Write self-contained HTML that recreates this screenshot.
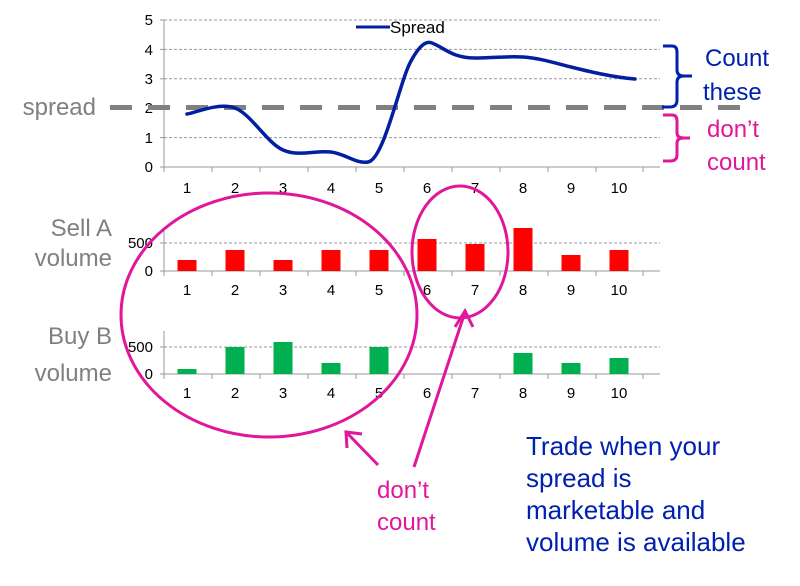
<!DOCTYPE html>
<html><head><meta charset="utf-8"><style>
html,body{margin:0;padding:0;background:#fff;}
svg{display:block;font-family:"Liberation Sans",sans-serif;}
</style></head><body>
<svg width="800" height="586" viewBox="0 0 800 586" xmlns="http://www.w3.org/2000/svg">
<g stroke="#999" stroke-width="1" stroke-dasharray="3,2">
<line x1="164" y1="20" x2="660" y2="20"/>
<line x1="164" y1="49.4" x2="660" y2="49.4"/>
<line x1="164" y1="78.8" x2="660" y2="78.8"/>
<line x1="164" y1="137.6" x2="660" y2="137.6"/>
</g>
<g stroke="#999" stroke-width="1">
<line x1="164" y1="20" x2="164" y2="172"/>
<line x1="160" y1="167" x2="660" y2="167"/>
<line x1="160" y1="20" x2="164" y2="20"/><line x1="160" y1="49.4" x2="164" y2="49.4"/><line x1="160" y1="78.8" x2="164" y2="78.8"/><line x1="160" y1="108.2" x2="164" y2="108.2"/><line x1="160" y1="137.6" x2="164" y2="137.6"/>
<line x1="212" y1="167" x2="212" y2="172"/><line x1="260" y1="167" x2="260" y2="172"/><line x1="308" y1="167" x2="308" y2="172"/><line x1="356" y1="167" x2="356" y2="172"/><line x1="404" y1="167" x2="404" y2="172"/><line x1="452" y1="167" x2="452" y2="172"/><line x1="500" y1="167" x2="500" y2="172"/><line x1="548" y1="167" x2="548" y2="172"/><line x1="596" y1="167" x2="596" y2="172"/><line x1="643" y1="167" x2="643" y2="172"/>
</g>
<g font-size="15" fill="#000" text-anchor="end">
<text x="153" y="25">5</text><text x="153" y="55">4</text><text x="153" y="84">3</text><text x="153" y="113">2</text><text x="153" y="143">1</text><text x="153" y="172">0</text>
</g>
<g font-size="15" fill="#000" text-anchor="middle">
<text x="187" y="193">1</text><text x="235" y="193">2</text><text x="283" y="193">3</text><text x="331" y="193">4</text><text x="379" y="193">5</text><text x="427" y="193">6</text><text x="475" y="193">7</text><text x="523" y="193">8</text><text x="571" y="193">9</text><text x="619" y="193">10</text>
</g>
<line x1="110" y1="107.5" x2="752" y2="107.5" stroke="#808080" stroke-width="5" stroke-dasharray="22,16"/>
<line x1="356" y1="27" x2="390" y2="27" stroke="#0020a0" stroke-width="3"/>
<text x="390" y="33" font-size="17" fill="#000">Spread</text>
<path d="M187,114 C195,113 219,102 235,108 C251,114 267,143 283,150 C299,157 316,150 331,152 C346,154 356,164 368,162 C384,160 400,80 411,61 C418,48 425,40 432,43 C445,48 452,58 475,58 C491,58 507,56 523,57 C539,58 555,63 571,67 C587,71 611,77 635,79" fill="none" stroke="#0020a0" stroke-width="3.5" stroke-linecap="round"/>
<path d="M663,46 L672,46 Q677,46 677,52 L677,70 Q677,76 684,76 L692,76 M684,76 Q677,76 677,82 L677,100 Q677,107 670,107 L662,107" fill="none" stroke="#0020b0" stroke-width="3"/>
<path d="M663,115 L672,115 Q677,115 677,121 L677,133 Q677,138 684,138 L690,138 M684,138 Q677,138 677,143 L677,155 Q677,161 670,161 L663,161" fill="none" stroke="#e0179a" stroke-width="3"/>
<g font-size="24" fill="#0020b0"><text x="705" y="66">Count</text><text x="703" y="100">these</text></g>
<g font-size="24" fill="#e0179a"><text x="707" y="137">don’t</text><text x="707" y="170">count</text></g>
<text x="96" y="115" font-size="24" fill="#808080" text-anchor="end">spread</text>

<line x1="164" y1="243" x2="660" y2="243" stroke="#999" stroke-dasharray="3,2"/>
<g stroke="#999"><line x1="164" y1="230" x2="164" y2="276"/><line x1="160" y1="271" x2="660" y2="271"/><line x1="160" y1="243" x2="164" y2="243"/>
<line x1="212" y1="271" x2="212" y2="276"/><line x1="260" y1="271" x2="260" y2="276"/><line x1="308" y1="271" x2="308" y2="276"/><line x1="356" y1="271" x2="356" y2="276"/><line x1="404" y1="271" x2="404" y2="276"/><line x1="452" y1="271" x2="452" y2="276"/><line x1="500" y1="271" x2="500" y2="276"/><line x1="548" y1="271" x2="548" y2="276"/><line x1="596" y1="271" x2="596" y2="276"/><line x1="643" y1="271" x2="643" y2="276"/></g>
<g fill="#ff0000">
<rect x="177.5" y="260" width="19" height="11"/><rect x="225.5" y="250" width="19" height="21"/><rect x="273.5" y="260" width="19" height="11"/><rect x="321.5" y="250" width="19" height="21"/><rect x="369.5" y="250" width="19" height="21"/><rect x="417.5" y="239" width="19" height="32"/><rect x="465.5" y="244" width="19" height="27"/><rect x="513.5" y="228" width="19" height="43"/><rect x="561.5" y="255" width="19" height="16"/><rect x="609.5" y="250" width="19" height="21"/>
</g>
<g font-size="15" fill="#000" text-anchor="end"><text x="153" y="248">500</text><text x="153" y="276">0</text></g>
<g font-size="15" fill="#000" text-anchor="middle">
<text x="187" y="295">1</text><text x="235" y="295">2</text><text x="283" y="295">3</text><text x="331" y="295">4</text><text x="379" y="295">5</text><text x="427" y="295">6</text><text x="475" y="295">7</text><text x="523" y="295">8</text><text x="571" y="295">9</text><text x="619" y="295">10</text>
</g>
<g font-size="24" fill="#808080" text-anchor="end"><text x="112" y="236">Sell A</text><text x="112" y="266">volume</text></g>

<line x1="164" y1="347" x2="660" y2="347" stroke="#999" stroke-dasharray="3,2"/>
<g stroke="#999"><line x1="164" y1="331" x2="164" y2="379"/><line x1="160" y1="374" x2="660" y2="374"/><line x1="160" y1="347" x2="164" y2="347"/>
<line x1="212" y1="374" x2="212" y2="379"/><line x1="260" y1="374" x2="260" y2="379"/><line x1="308" y1="374" x2="308" y2="379"/><line x1="356" y1="374" x2="356" y2="379"/><line x1="404" y1="374" x2="404" y2="379"/><line x1="452" y1="374" x2="452" y2="379"/><line x1="500" y1="374" x2="500" y2="379"/><line x1="548" y1="374" x2="548" y2="379"/><line x1="596" y1="374" x2="596" y2="379"/><line x1="643" y1="374" x2="643" y2="379"/></g>
<g fill="#00b050">
<rect x="177.5" y="369" width="19" height="5"/><rect x="225.5" y="347" width="19" height="27"/><rect x="273.5" y="342" width="19" height="32"/><rect x="321.5" y="363" width="19" height="11"/><rect x="369.5" y="347" width="19" height="27"/><rect x="513.5" y="353" width="19" height="21"/><rect x="561.5" y="363" width="19" height="11"/><rect x="609.5" y="358" width="19" height="16"/>
</g>
<g font-size="15" fill="#000" text-anchor="end"><text x="153" y="352">500</text><text x="153" y="379">0</text></g>
<g font-size="15" fill="#000" text-anchor="middle">
<text x="187" y="398">1</text><text x="235" y="398">2</text><text x="283" y="398">3</text><text x="331" y="398">4</text><text x="379" y="398">5</text><text x="427" y="398">6</text><text x="475" y="398">7</text><text x="523" y="398">8</text><text x="571" y="398">9</text><text x="619" y="398">10</text>
</g>
<g font-size="24" fill="#808080" text-anchor="end"><text x="112" y="344">Buy B</text><text x="112" y="381">volume</text></g>

<g fill="none" stroke="#e0179a" stroke-width="3">
<ellipse cx="269" cy="315" rx="148" ry="122"/>
<ellipse cx="460" cy="252" rx="48" ry="66"/>
<line x1="378" y1="465" x2="348" y2="434"/>
<polyline points="347,448 346,432 362,434"/>
<line x1="414" y1="467" x2="465" y2="312"/>
<polyline points="455,327 465,311 473,327"/>
</g>
<g font-size="24" fill="#e0179a"><text x="377" y="498">don’t</text><text x="377" y="530">count</text></g>
<g font-size="26" fill="#0020b0"><text x="526" y="455">Trade when your</text><text x="526" y="487">spread is</text><text x="526" y="519">marketable and</text><text x="526" y="551">volume is available</text></g>
</svg>
</body></html>
